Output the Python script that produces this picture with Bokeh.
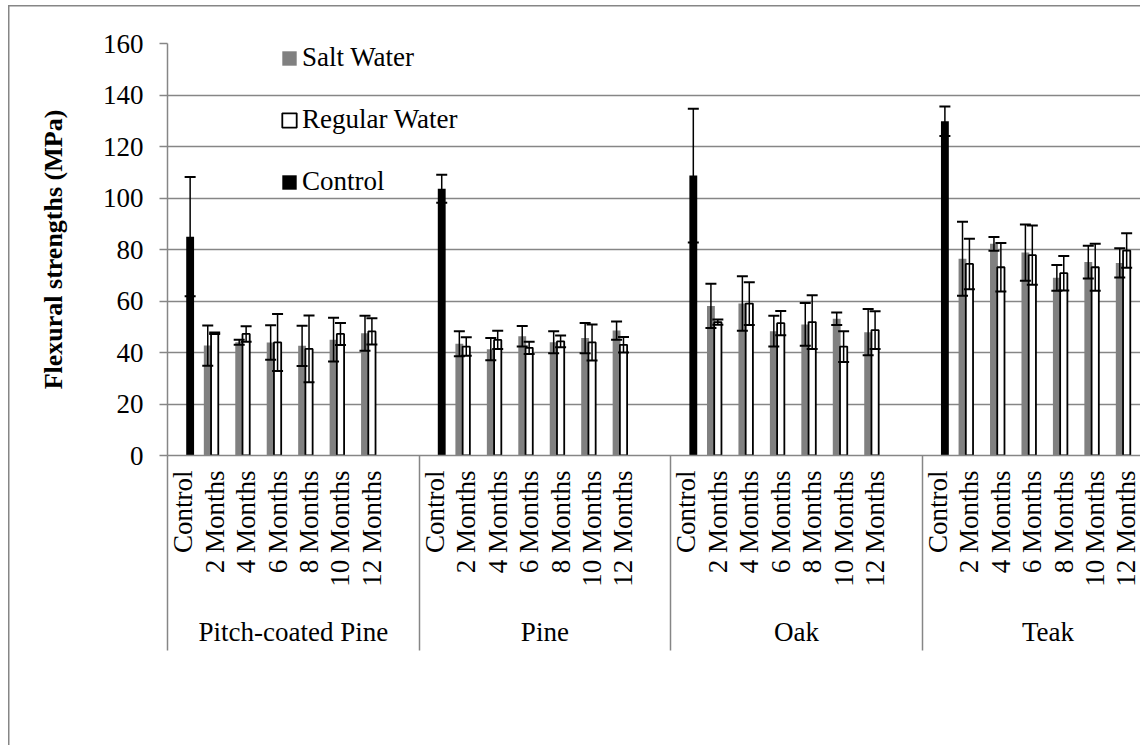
import math
from bokeh.plotting import figure
from bokeh.models import (ColumnDataSource, Range1d, FixedTicker, LinearAxis,
                          Whisker, TeeHead, CustomJSTickFormatter)
from bokeh.embed import file_html
from bokeh.resources import INLINE

# ---------------- data ----------------
groups = ["Pitch-coated Pine", "Pine", "Oak", "Teak"]
periods = ["2 Months", "4 Months", "6 Months", "8 Months", "10 Months", "12 Months"]
control_label = "Control"

control_mean = [85.0, 103.6, 108.7, 129.8]
control_err = [23.2, 5.4, 26.0, 5.7]

salt_mean = [
    [42.7, 44.0, 43.9, 42.6, 45.0, 47.5],
    [43.4, 41.3, 46.3, 44.0, 45.6, 48.5],
    [58.1, 59.0, 48.3, 50.9, 53.1, 47.9],
    [76.4, 82.2, 78.8, 69.0, 75.1, 74.8],
]
salt_err = [
    [7.8, 1.0, 6.7, 7.8, 8.5, 6.8],
    [4.9, 4.3, 4.0, 4.3, 5.9, 3.5],
    [8.6, 10.6, 6.0, 8.3, 2.4, 9.0],
    [14.4, 2.7, 10.9, 5.0, 6.4, 5.7],
]
regular_mean = [
    [47.5, 47.2, 43.9, 41.4, 47.2, 48.2],
    [42.3, 44.9, 41.8, 44.3, 43.9, 43.0],
    [51.8, 59.0, 51.4, 51.8, 42.3, 48.7],
    [74.4, 73.1, 77.8, 70.8, 73.1, 79.6],
]
regular_err = [
    [0.3, 3.0, 11.1, 13.0, 4.3, 5.1],
    [3.6, 3.5, 2.4, 2.3, 7.0, 3.0],
    [1.0, 8.3, 4.7, 10.4, 6.0, 7.3],
    [9.8, 9.4, 11.5, 6.7, 9.1, 6.7],
]

y_ticks = [0, 20, 40, 60, 80, 100, 120, 140, 160]

# ---------------- layout of categories ----------------
SLOTS = 8          # Control + 6 periods + 1 empty slot per group
OFF = 0.22
BW = 0.25

FONT = "'Liberation Serif', 'Times New Roman', Times, serif"
GRAY = "#868686"
SALT = "#808080"

sx, st, slo, shi = [], [], [], []
rx, rt, rlo, rhi = [], [], [], []
cx, ct, clo, chi = [], [], [], []
tick_pos, tick_lab = [], {}
for g in range(len(groups)):
    base = g * SLOTS
    tick_pos.append(base)
    tick_lab[base] = control_label
    cx.append(base + OFF)
    ct.append(control_mean[g])
    clo.append(control_mean[g] - control_err[g])
    chi.append(control_mean[g] + control_err[g])
    for k in range(len(periods)):
        pos = base + k + 1
        tick_pos.append(pos)
        tick_lab[pos] = periods[k]
        sx.append(pos - OFF)
        st.append(salt_mean[g][k])
        slo.append(salt_mean[g][k] - salt_err[g][k])
        shi.append(salt_mean[g][k] + salt_err[g][k])
        rx.append(pos)
        rt.append(regular_mean[g][k])
        rlo.append(regular_mean[g][k] - regular_err[g][k])
        rhi.append(regular_mean[g][k] + regular_err[g][k])

salt_src = ColumnDataSource(dict(x=sx, top=st, lower=slo, upper=shi))
reg_src = ColumnDataSource(dict(x=rx, top=rt, lower=rlo, upper=rhi))
ctl_src = ColumnDataSource(dict(x=cx, top=ct, lower=clo, upper=chi))

# ---------------- figure ----------------
p = figure(width=1140, height=745, output_backend="svg", toolbar_location=None,
           x_range=Range1d(-0.5, 30.44), y_range=Range1d(0, 160),
           x_axis_location=None,
           min_border_left=167, min_border_right=0, min_border_top=43,
           min_border_bottom=290, outline_line_color=None,
           border_fill_alpha=0)
# thin chart-area border on the top and left edge (as in the reference)
p.styles = {
    "background-image": "linear-gradient(#868686, #868686), linear-gradient(#868686, #868686)",
    "background-size": "1.5px 100%, 100% 1.5px",
    "background-position": "8px 5px, 8px 5px",
    "background-repeat": "no-repeat",
    "background-color": "white",
}

# y axis
ya = p.yaxis[0]
ya.ticker = FixedTicker(ticks=y_ticks, minor_ticks=[])
ya.major_tick_out = 8
ya.major_tick_in = 0
ya.minor_tick_out = 0
ya.minor_tick_in = 0
ya.axis_line_color = GRAY
ya.axis_line_width = 1.5
ya.major_tick_line_color = GRAY
ya.major_tick_line_width = 1.5
ya.major_label_standoff = 16
ya.major_label_text_font = FONT
ya.major_label_text_font_size = "27px"
ya.major_label_text_color = "black"
ya.axis_label = "Flexural strengths (MPa)"
ya.axis_label_text_font = FONT
ya.axis_label_text_font_style = "bold"
ya.axis_label_text_font_size = "26px"
ya.axis_label_text_color = "black"
ya.axis_label_standoff = 32

p.ygrid.ticker = ya.ticker
p.ygrid.grid_line_color = GRAY
p.ygrid.grid_line_width = 1.5
p.xgrid.visible = False

# x axis: category labels with group separators as long minor ticks
SEP = 195
xa = LinearAxis(
    ticker=FixedTicker(ticks=tick_pos,
                       minor_ticks=[g * SLOTS - 0.5 for g in range(len(groups))]),
    major_label_overrides=tick_lab,
    major_label_orientation=math.pi / 2,
    major_tick_out=0, major_tick_in=0, major_tick_line_color=None,
    minor_tick_out=SEP, minor_tick_in=0,
    minor_tick_line_color=GRAY, minor_tick_line_width=1.5,
    axis_line_color=GRAY, axis_line_width=1.5,
    major_label_standoff=15 - SEP,
    major_label_text_font=FONT, major_label_text_font_size="27px",
    major_label_text_color="black",
)
p.add_layout(xa, "below")

ga = LinearAxis(
    ticker=FixedTicker(ticks=[g * SLOTS + 3.5 for g in range(len(groups))], minor_ticks=[]),
    formatter=CustomJSTickFormatter(args=dict(names=groups),
                                    code="return names[Math.round((tick - 3.5) / 8)];"),
    axis_line_color=None, major_tick_line_color=None, minor_tick_line_color=None,
    major_tick_out=0, major_tick_in=0, minor_tick_out=0, minor_tick_in=0,
    major_label_standoff=27,
    major_label_text_font=FONT, major_label_text_font_size="27px",
    major_label_text_color="black",
)
p.add_layout(ga, "below")

# bars
p.vbar(x="x", top="top", width=BW, source=salt_src, fill_color=SALT,
       line_color=None, legend_label="Salt Water")
p.vbar(x="x", top="top", width=BW - 0.02, source=reg_src, fill_color="white",
       line_color="black", line_width=1.8, legend_label="Regular Water")
p.vbar(x="x", top="top", width=BW, source=ctl_src, fill_color="black",
       line_color=None, legend_label="Control")

# error bars
for src in (salt_src, reg_src, ctl_src):
    w = Whisker(base="x", upper="upper", lower="lower", source=src,
                dimension="height", line_color="black", line_width=1.5,
                upper_head=TeeHead(size=11, line_width=2, line_color="black"),
                lower_head=TeeHead(size=11, line_width=2, line_color="black"),
                level="annotation")
    p.add_layout(w)

# legend
lg = p.legend[0]
lg.location = (113, 258)
lg.orientation = "vertical"
lg.padding = 0
lg.margin = 0
lg.spacing = 31
lg.glyph_width = 18
lg.glyph_height = 18
lg.label_height = 30
lg.label_standoff = 4
lg.label_text_font = FONT
lg.label_text_font_size = "27px"
lg.label_text_color = "black"
lg.background_fill_alpha = 0
lg.border_line_color = None

open("out.html", "w").write(file_html(p, INLINE))
